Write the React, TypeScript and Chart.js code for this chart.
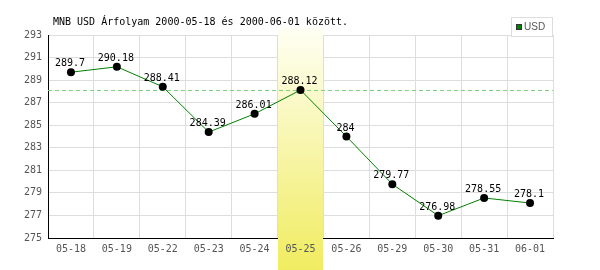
import React, { useEffect, useRef } from "react";
import { Chart, registerables } from "chart.js";

Chart.register(...registerables);

const categories = ["05-18", "05-19", "05-22", "05-23", "05-24", "05-25", "05-26", "05-29", "05-30", "05-31", "06-01"];
const usdValues = [289.7, 290.18, 288.41, 284.39, 286.01, 288.12, 284, 279.77, 276.98, 278.55, 278.1];
const valueLabels = ["289.7", "290.18", "288.41", "284.39", "286.01", "288.12", "284", "279.77", "276.98", "278.55", "278.1"];
const yMin = 275;
const yMax = 293;
const yStep = 2;
const highlightCategory = "05-25";
const referenceLevel = 288.12;
const titleText = "MNB USD Árfolyam 2000-05-18 és 2000-06-01 között.";
const seriesName = "USD";

const MONO = "'DejaVu Sans Mono', monospace";

const overlayPlugin = {
  id: "overlay",
  beforeDatasetsDraw(chart: any) {
    const { ctx, chartArea, scales } = chart;
    const xs = scales.x;
    const ys = scales.y;
    const idx = categories.indexOf(highlightCategory);
    const cx = xs.getPixelForValue(idx);
    const half = (xs.getPixelForValue(1) - xs.getPixelForValue(0)) / 2;
    const top = chartArea.top - 7;
    const bottom = chart.height;
    const left = Math.floor(cx - half) + 1;
    const right = Math.round(cx + half);
    ctx.save();
    const g = ctx.createLinearGradient(0, top, 0, bottom);
    g.addColorStop(0, "#fffff4");
    g.addColorStop(1, "#f0ec60");
    ctx.fillStyle = g;
    ctx.fillRect(left, top, right - left, bottom - top);
    // reference dashed line
    const y = Math.round(ys.getPixelForValue(referenceLevel)) + 0.5;
    ctx.strokeStyle = "#80d080";
    ctx.lineWidth = 1;
    ctx.setLineDash([4, 3]);
    ctx.beginPath();
    ctx.moveTo(chartArea.left, y);
    ctx.lineTo(chartArea.right, y);
    ctx.stroke();
    ctx.restore();
  },
  afterDatasetsDraw(chart: any) {
    const { ctx } = chart;
    const meta = chart.getDatasetMeta(0);
    ctx.save();
    ctx.font = `10px ${MONO}`;
    ctx.fillStyle = "#000";
    ctx.textAlign = "center";
    ctx.textBaseline = "alphabetic";
    meta.data.forEach((pt: any, i: number) => {
      ctx.fillText(valueLabels[i], pt.x - 1, pt.y - 6);
    });
    ctx.restore();
  },
  afterDraw(chart: any) {
    const { ctx, chartArea } = chart;
    ctx.save();
    ctx.font = `10px ${MONO}`;
    ctx.fillStyle = "#000";
    ctx.textAlign = "left";
    ctx.textBaseline = "middle";
    ctx.fillText(titleText, chartArea.left + 5, 22);
    // legend
    const bx = chartArea.right - 42;
    const by = 17;
    const bw = 42;
    const bh = 20;
    ctx.fillStyle = "#fff";
    ctx.fillRect(bx, by, bw, bh);
    ctx.strokeStyle = "#dddddd";
    ctx.lineWidth = 1;
    ctx.strokeRect(bx + 0.5, by + 0.5, bw - 1, bh - 1);
    ctx.fillStyle = "#008000";
    ctx.fillRect(bx + 5, by + 7, 6, 6);
    ctx.strokeStyle = "#333";
    ctx.strokeRect(bx + 5.5, by + 7.5, 5, 5);
    ctx.fillStyle = "#555";
    ctx.font = "10px 'Liberation Sans', Arial, sans-serif";
    ctx.fillText(seriesName, bx + 13, by + 10.5);
    ctx.restore();
  },
};

export default function App() {
  const ref = useRef<HTMLCanvasElement | null>(null);
  useEffect(() => {
    document.body.style.margin = "0";
    const canvas = ref.current;
    if (!canvas) return;
    const chart = new Chart(canvas, {
      type: "line",
      data: {
        labels: categories,
        datasets: [
          {
            label: seriesName,
            data: usdValues,
            borderColor: "#008000",
            borderWidth: 1,
            pointRadius: 4,
            pointBackgroundColor: "#000",
            pointBorderColor: "#000",
            pointBorderWidth: 0,
            tension: 0,
            fill: false,
          },
        ],
      },
      options: {
        animation: false,
        responsive: false,
        maintainAspectRatio: false,
        events: [],
        layout: { padding: { left: 0, right: 47, top: 35, bottom: 0 } },
        plugins: { legend: { display: false }, tooltip: { enabled: false }, title: { display: false } },
        scales: {
          x: {
            type: "category",
            offset: true,
            grid: { offset: true, color: "#dddddd", drawTicks: false, z: 0 },
            border: { color: "#000", width: 1, z: 0 },
            ticks: { color: "#555", font: { family: MONO, size: 10 }, padding: 5, z: 1, maxRotation: 0, autoSkip: false },
            afterFit(scale: any) {
              scale.height = 32;
            },
          },
          y: {
            min: yMin,
            max: yMax,
            grid: { color: "#dddddd", drawTicks: false },
            border: { color: "#000", width: 1 },
            ticks: { stepSize: yStep, color: "#555", font: { family: MONO, size: 10 }, padding: 6 },
            afterFit(scale: any) {
              scale.width = 48;
            },
          },
        },
      },
      plugins: [overlayPlugin],
    } as any);
    return () => chart.destroy();
  }, []);
  return <canvas ref={ref} width={600} height={270} style={{ display: "block", width: 600, height: 270 }} />;
}
